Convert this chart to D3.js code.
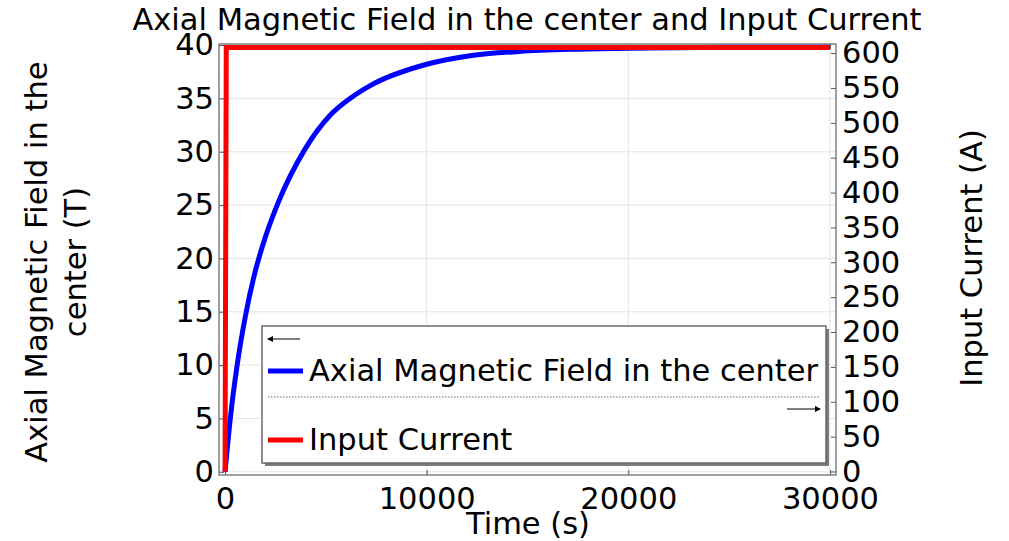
<!DOCTYPE html>
<html>
<head>
<meta charset="utf-8">
<script src="https://cdn.jsdelivr.net/npm/d3@7"></script>
<style>
  body { margin: 0; background: #fff; }
  text { font-family: "DejaVu Sans", sans-serif; fill: #000; }
</style>
</head>
<body>
<svg id="chart" width="1009" height="541"></svg>
<script>
// values
const fieldTime = [0, 260, 600, 1000, 1500, 2000, 2650, 3950, 5200, 6200, 7200, 10000, 12150, 14600, 17100, 20000, 25000, 30000];
const fieldValue = [0, 5, 10, 14.5, 18.8, 22, 25.3, 30.2, 33.4, 35, 36.2, 38.2, 39.0, 39.4, 39.6, 39.7, 39.8, 39.8];
const currentTime = [0, 60, 30000];
const currentValue = [0, 608, 608];
const timeTicks = [0, 10000, 20000, 30000];
const fieldTicks = [0, 5, 10, 15, 20, 25, 30, 35, 40];
const currentTicks = [0, 50, 100, 150, 200, 250, 300, 350, 400, 450, 500, 550, 600];

const svg = d3.select('#chart');
const pLeft = 219, pRight = 836, pTop = 44, pBottom = 475;
const fs = 30.5;

const x = d3.scaleLinear().domain([-300, 30300]).range([pLeft, pRight]);
const yL = d3.scaleLinear().domain([-0.3, 40.1]).range([pBottom, pTop]);
const yR = d3.scaleLinear().domain([-5, 613]).range([pBottom, pTop]);

// grid
svg.append('g').selectAll('line').data(fieldTicks).join('line')
    .attr('x1', pLeft).attr('x2', pRight)
    .attr('y1', d => yL(d)).attr('y2', d => yL(d))
    .attr('stroke', '#e4e4e4').attr('stroke-width', 1);
svg.append('g').selectAll('line').data(timeTicks).join('line')
    .attr('x1', d => x(d)).attr('x2', d => x(d))
    .attr('y1', pTop).attr('y2', pBottom)
    .attr('stroke', '#e4e4e4').attr('stroke-width', 1);

// axes (ticks pointing inward)
const styleAxis = g => {
    g.select('.domain').remove();
    g.selectAll('.tick line').attr('stroke', '#555');
    g.selectAll('.tick text').style('font-size', fs + 'px').style('font-family', 'DejaVu Sans');
};
svg.append('g').attr('transform', `translate(${pLeft},0)`)
    .call(d3.axisLeft(yL).tickValues(fieldTicks).tickSize(-5).tickPadding(5).tickFormat(d3.format('d')))
    .call(styleAxis);
svg.append('g').attr('transform', `translate(${pRight},0)`)
    .call(d3.axisRight(yR).tickValues(currentTicks).tickSize(-5).tickPadding(6).tickFormat(d3.format('d')))
    .call(styleAxis);
svg.append('g').attr('transform', `translate(0,${pBottom})`)
    .call(d3.axisBottom(x).tickValues(timeTicks).tickSize(-5).tickPadding(12).tickFormat(d3.format('d')))
    .call(styleAxis);
svg.append('g').attr('transform', `translate(0,${pTop})`)
    .call(d3.axisTop(x).tickValues(timeTicks).tickSize(-5).tickFormat(''))
    .call(styleAxis);

// frame
svg.append('rect').attr('x', pLeft).attr('y', pTop)
    .attr('width', pRight - pLeft).attr('height', pBottom - pTop)
    .attr('fill', 'none').attr('stroke', '#808080').attr('stroke-width', 1.5);

// series
const fieldData = fieldTime.map((t, i) => [t, fieldValue[i]]);
const currentData = currentTime.map((t, i) => [t, currentValue[i]]);

svg.append('path').datum(fieldData)
    .attr('fill', 'none').attr('stroke', '#0000ff').attr('stroke-width', 5)
    .attr('d', d3.line().x(d => x(d[0])).y(d => yL(d[1])).curve(d3.curveMonotoneX));
svg.append('path').datum(currentData)
    .attr('fill', 'none').attr('stroke', '#ff0000').attr('stroke-width', 5)
    .attr('d', d3.line().x(d => x(d[0])).y(d => yR(d[1])));

// titles
svg.append('text').attr('x', 527).attr('y', 30).attr('text-anchor', 'middle')
    .style('font-size', fs + 'px').text('Axial Magnetic Field in the center and Input Current');
svg.append('text').attr('x', 528).attr('y', 534).attr('text-anchor', 'middle')
    .style('font-size', fs + 'px').text('Time (s)');
const yt = svg.append('text').attr('transform', 'translate(47,262) rotate(-90)')
    .attr('text-anchor', 'middle').style('font-size', fs + 'px');
yt.append('tspan').attr('x', 0).attr('y', 0).text('Axial Magnetic Field in the');
yt.append('tspan').attr('x', 0).attr('y', 39).text('center (T)');
svg.append('text').attr('transform', 'translate(982,258) rotate(-90)')
    .attr('text-anchor', 'middle').style('font-size', fs + 'px').text('Input Current (A)');

// legend
const lg = svg.append('g');
lg.append('rect').attr('x', 265).attr('y', 329).attr('width', 564).attr('height', 137).attr('fill', '#7a7a7a');
lg.append('rect').attr('x', 262).attr('y', 326).attr('width', 564).attr('height', 137)
    .attr('fill', '#fff').attr('stroke', '#6a6a6a').attr('stroke-width', 1.5);

svg.append('defs').append('marker').attr('id', 'arr')
    .attr('viewBox', '0 0 6 6').attr('refX', 5).attr('refY', 3)
    .attr('markerWidth', 6).attr('markerHeight', 6).attr('orient', 'auto')
    .append('path').attr('d', 'M0,0 L6,3 L0,6 Z').attr('fill', '#000');

lg.append('line').attr('x1', 300).attr('x2', 268).attr('y1', 339).attr('y2', 339)
    .attr('stroke', '#000').attr('stroke-width', 1).attr('marker-end', 'url(#arr)');
lg.append('line').attr('x1', 787).attr('x2', 820).attr('y1', 409).attr('y2', 409)
    .attr('stroke', '#000').attr('stroke-width', 1).attr('marker-end', 'url(#arr)');
lg.append('line').attr('x1', 268).attr('x2', 820).attr('y1', 397).attr('y2', 397)
    .attr('stroke', '#666').attr('stroke-width', 1).attr('stroke-dasharray', '1.5,1.5');

const legendItems = [
    { name: 'Axial Magnetic Field in the center', color: '#0000ff', y: 371 },
    { name: 'Input Current', color: '#ff0000', y: 440 }
];
legendItems.forEach(it => {
    lg.append('line').attr('x1', 268).attr('x2', 303).attr('y1', it.y).attr('y2', it.y)
        .attr('stroke', it.color).attr('stroke-width', 5);
    lg.append('text').attr('x', 309).attr('y', it.y + 10).style('font-size', fs + 'px').text(it.name);
});
</script>
</body>
</html>
